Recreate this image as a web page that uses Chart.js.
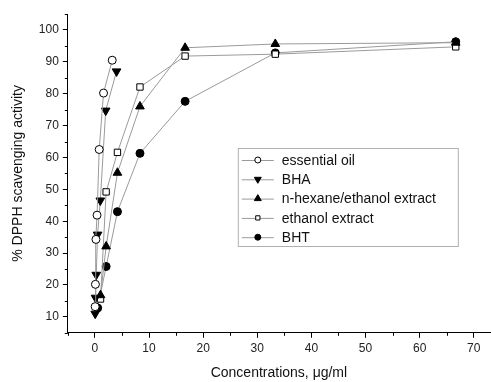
<!DOCTYPE html>
<html>
<head>
<meta charset="utf-8">
<script src="https://cdn.jsdelivr.net/npm/chart.js@4.4.1/dist/chart.umd.min.js"></script>
<style>
html, body { margin: 0; padding: 0; background: #fff; }
canvas { display: block; }
</style>
</head>
<body>
<canvas id="chart" width="491" height="382"></canvas>
<script>
const FONT = "'Liberation Sans', Arial, sans-serif";

// series data
const oilConc = [0.05, 0.1, 0.2, 0.4, 0.8, 1.6, 3.2];
const oilValues = [13.2, 20.2, 34.3, 41.9, 62.5, 80.2, 90.5];

const bhaConc = [0.06, 0.12, 0.25, 0.5, 1.0, 2.0, 4.0];
const bhaValues = [11, 16, 23.2, 35.8, 46.5, 74.7, 87];

const hexaneConc = [1.04, 2.08, 4.17, 8.33, 16.67, 33.33, 66.67];
const hexaneValues = [16.8, 32.1, 55.2, 76, 94.4, 95.6, 96];

const ethanolConc = [1.04, 2.08, 4.17, 8.33, 16.67, 33.33, 66.67];
const ethanolValues = [15.6, 49.2, 61.6, 82.1, 91.8, 92.4, 94.7];

const bhtConc = [0.52, 2.08, 4.17, 8.33, 16.67, 33.33, 66.67];
const bhtValues = [12.8, 25.8, 43, 61.3, 77.6, 92.8, 96.3];

// tick labels
const xTicks = [0, 10, 20, 30, 40, 50, 60, 70];
const yTicks = [10, 20, 30, 40, 50, 60, 70, 80, 90, 100];
const xMinor = [-5, 5, 15, 25, 35, 45, 55, 65];
const yMinor = [5, 15, 25, 35, 45, 55, 65, 75, 85, 95, 105];

function pts(xs, ys) {
    return xs.map((x, i) => ({ x, y: ys[i] }));
}

function series(label, xs, ys, style, rotation, fill, radius) {
    return {
        label,
        data: pts(xs, ys),
        borderColor: '#9a9a9a',
        borderWidth: 1,
        pointStyle: style,
        rotation,
        pointRadius: radius,
        pointBackgroundColor: fill,
        pointBorderColor: '#000',
        pointBorderWidth: 1,
        tension: 0,
        fill: false,
    };
}

const datasets = [
    series('essential oil', oilConc, oilValues, 'circle', 0, '#fff', 4),
    series('BHA', bhaConc, bhaValues, 'triangle', 180, '#000', 5),
    series('n-hexane/ethanol extract', hexaneConc, hexaneValues, 'triangle', 0, '#000', 5),
    series('ethanol extract', ethanolConc, ethanolValues, 'rect', 0, '#fff', 4.5),
    series('BHT', bhtConc, bhtValues, 'circle', 0, '#000', 4),
];

const minorTicks = {
    id: 'minorTicks',
    afterDraw(chart) {
        const ctx = chart.ctx;
        const xs = chart.scales.x;
        const ys = chart.scales.y;
        ctx.save();
        ctx.strokeStyle = '#000';
        ctx.lineWidth = 1;
        ctx.beginPath();
        xMinor.forEach((v) => {
            const px = Math.round(xs.getPixelForValue(v)) + 0.5;
            ctx.moveTo(px, xs.top);
            ctx.lineTo(px, xs.top + 3);
        });
        yMinor.forEach((v) => {
            const py = Math.round(ys.getPixelForValue(v)) + 0.5;
            ctx.moveTo(ys.right, py);
            ctx.lineTo(ys.right - 3, py);
        });
        ctx.stroke();
        ctx.restore();
    },
};

// legend box sits inside the plot, like the original
const insideLegend = {
    id: 'insideLegend',
    afterDraw(chart) {
        const ctx = chart.ctx;
        const area = chart.chartArea;
        const left = area.left + 170;
        const top = area.top + 134;
        const w = 220;
        const h = 98;
        const rowH = 19.3;
        ctx.save();
        ctx.fillStyle = '#fff';
        ctx.fillRect(left, top, w, h);
        ctx.strokeStyle = '#b0b0b0';
        ctx.lineWidth = 1;
        ctx.strokeRect(left + 0.5, top + 0.5, w, h);
        ctx.font = '14px ' + FONT;
        ctx.textBaseline = 'middle';
        chart.data.datasets.forEach((ds, i) => {
            const cy = top + 12 + i * rowH;
            ctx.strokeStyle = '#9a9a9a';
            ctx.beginPath();
            ctx.moveTo(left + 4, cy + 0.5);
            ctx.lineTo(left + 36, cy + 0.5);
            ctx.stroke();
            ctx.fillStyle = ds.pointBackgroundColor;
            ctx.strokeStyle = '#000';
            Chart.helpers.drawPoint(ctx, {
                pointStyle: ds.pointStyle,
                rotation: ds.rotation,
                radius: ds.pointStyle === 'triangle' ? 4 : 3,
                borderWidth: 1,
            }, left + 20, cy);
            ctx.fillStyle = '#111';
            ctx.fillText(ds.label, left + 44, cy + 1);
        });
        ctx.restore();
    },
};

new Chart(document.getElementById('chart'), {
    type: 'line',
    data: { datasets },
    plugins: [minorTicks, insideLegend],
    options: {
        responsive: false,
        animation: false,
        devicePixelRatio: 1,
        layout: { autoPadding: false, padding: { top: 14, right: 1, left: 10, bottom: 0 } },
        plugins: {
            legend: { display: false },
            tooltip: { enabled: false },
        },
        scales: {
            x: {
                type: 'linear',
                min: -5,
                max: 73,
                afterBuildTicks: (scale) => { scale.ticks = xTicks.map((v) => ({ value: v })); },
                // last label (70) is not at the axis end, so no room is needed for it
                afterFit: (scale) => { scale.paddingRight = 0; scale.paddingLeft = 0; },
                grid: { drawOnChartArea: false, drawTicks: true, tickLength: 5, tickColor: '#000' },
                border: { display: true, color: '#000', width: 1 },
                ticks: { color: '#222', font: { family: FONT, size: 12 }, padding: 4, maxRotation: 0 },
                title: {
                    display: true,
                    text: 'Concentrations, \u03bcg/ml',
                    color: '#111',
                    font: { family: FONT, size: 14 },
                    padding: { top: 5, bottom: 0 },
                },
            },
            y: {
                min: 5,
                max: 105,
                afterBuildTicks: (scale) => { scale.ticks = yTicks.map((v) => ({ value: v })); },
                grid: { drawOnChartArea: false, drawTicks: true, tickLength: 5, tickColor: '#000' },
                border: { display: true, color: '#000', width: 1 },
                ticks: { color: '#222', font: { family: FONT, size: 12 }, padding: 4 },
                title: {
                    display: true,
                    text: '% DPPH scavenging activity',
                    color: '#111',
                    font: { family: FONT, size: 14 },
                    padding: { top: 0, bottom: 8 },
                },
            },
        },
    },
});
</script>
</body>
</html>
